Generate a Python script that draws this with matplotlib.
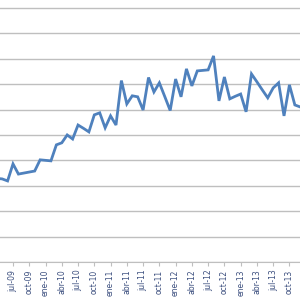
import matplotlib
matplotlib.use("Agg")
import matplotlib.pyplot as plt

# serie mensual, abr-09 .. dic-13
meses = ["abr", "may", "jun", "jul", "ago", "sep", "oct", "nov", "dic", "ene", "feb", "mar"]
anios = ["09"] * 9 + ["10"] * 12 + ["11"] * 12 + ["12"] * 12 + ["13"] * 12
valores = [
    32.9, 32.7, 31.9, 38.6, 34.6, 35.0, 35.4, 35.8, 40.2,
    40.0, 39.8, 46.1, 46.9, 50.0, 48.4, 53.9, 52.6, 51.2, 57.9, 58.7, 52.8,
    57.5, 53.9, 71.4, 62.2, 65.4, 65.0, 59.8, 72.6, 66.9, 70.5, 65.1, 59.6,
    72.0, 65.0, 76.0, 69.3, 75.2, 75.4, 75.6, 81.1, 63.4, 72.8, 64.2, 65.2,
    66.1, 59.1, 74.0, 70.9, 67.7, 64.6, 68.5, 70.5, 57.5, 69.7, 61.8, 61.0,
]
etiquetas = [f"{meses[i % 12]}-{anios[i]}" for i in range(len(valores))]

fig = plt.figure(figsize=(3, 3), dpi=100)
ax = fig.add_axes([0, 38 / 300, 1, 262 / 300])

x = list(range(len(valores)))
ax.plot(x, valores, color="#4F81BD", linewidth=2.0, solid_joinstyle="miter")

ax.set_xlim(0.60, 55.95)
ax.set_ylim(0, 103.1)
ax.set_yticks(range(0, 101, 10))
ax.yaxis.grid(True, color="#BFBFBF", linewidth=1.0)
ax.set_axisbelow(True)
ax.tick_params(axis="y", left=False, labelleft=False)

# trimestres visibles (jul-09 en adelante)
ticks = [i for i in x if i % 3 == 0 and i > 0]
ax.set_xticks(ticks)
ax.set_xticklabels([etiquetas[i] for i in ticks], rotation=90, fontsize=5.5,
                   color="#3B4E7E")
ax.tick_params(axis="x", length=3, color="#BFBFBF", pad=2.5)

for s in ["top", "right", "left"]:
    ax.spines[s].set_visible(False)
ax.spines["bottom"].set_color("#BFBFBF")

fig.savefig("out.png", dpi=100)
